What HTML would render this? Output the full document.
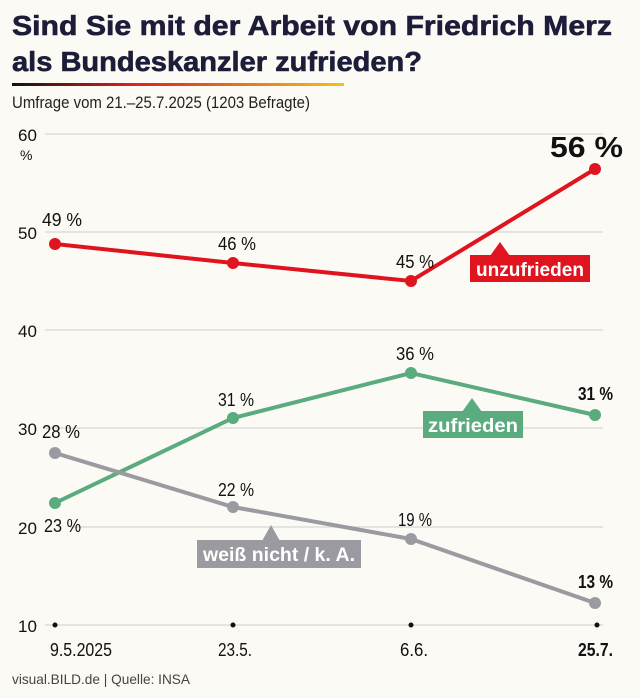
<!DOCTYPE html>
<html><head><meta charset="utf-8"><style>
body{margin:0;background:#fcfaf5;}
svg{display:block}
.c{font-family:"Liberation Sans",sans-serif;}
</style></head><body>
<svg width="640" height="698" viewBox="0 0 640 698" xmlns="http://www.w3.org/2000/svg">
<defs><linearGradient id="g" x1="0" x2="1"><stop offset="0" stop-color="#111"/><stop offset="0.35" stop-color="#d62020"/><stop offset="1" stop-color="#f2c21a"/></linearGradient></defs>
<rect width="640" height="698" fill="#fcfaf5"/>
<g font-family="Liberation Sans, sans-serif" font-weight="bold" font-size="28" fill="#1d1d3a" stroke="#1d1d3a" stroke-width="0.6">
<text x="12" y="35" textLength="600" lengthAdjust="spacingAndGlyphs">Sind Sie mit der Arbeit von Friedrich Merz</text>
<text x="12" y="71" textLength="410" lengthAdjust="spacingAndGlyphs">als Bundeskanzler zufrieden?</text></g>
<rect x="12" y="83" width="332" height="3" fill="url(#g)"/>
<text class="c" x="12" y="108" font-size="17" fill="#222" textLength="298" lengthAdjust="spacingAndGlyphs">Umfrage vom 21.–25.7.2025 (1203 Befragte)</text>
<g stroke="#dcdcdc" stroke-width="1.5">
<line x1="45" x2="603" y1="134" y2="134"/><line x1="45" x2="603" y1="232" y2="232"/>
<line x1="45" x2="603" y1="330" y2="330"/><line x1="45" x2="603" y1="428" y2="428"/>
<line x1="70" x2="603" y1="527" y2="527"/><line x1="45" x2="603" y1="625" y2="625"/></g>
<g class="c" font-size="17" fill="#111">
<text x="18" y="141">60</text><text x="20" y="160" font-size="14">%</text>
<text x="18" y="239">50</text><text x="18" y="337">40</text><text x="18" y="435">30</text>
<text x="18" y="534">20</text><text x="18" y="632">10</text>
<text x="50" y="656" font-size="18" textLength="62" lengthAdjust="spacingAndGlyphs">9.5.2025</text>
<text x="218" y="656" font-size="18" textLength="34" lengthAdjust="spacingAndGlyphs">23.5.</text>
<text x="400" y="656" font-size="18" textLength="28" lengthAdjust="spacingAndGlyphs">6.6.</text>
<text x="578" y="656" font-size="18" font-weight="bold" textLength="35" lengthAdjust="spacingAndGlyphs">25.7.</text>
<text x="12" y="684" font-size="14" fill="#444" textLength="178" lengthAdjust="spacingAndGlyphs">visual.BILD.de | Quelle: INSA</text>
</g>
<g fill="#111"><circle cx="55" cy="625" r="2.5"/><circle cx="233" cy="625" r="2.5"/><circle cx="411" cy="625" r="2.5"/><circle cx="597" cy="625" r="2.5"/></g>
<g fill="none" stroke-width="4">
<polyline stroke="#e0141e" points="55,244 233,263 411,281 595,169"/>
<polyline stroke="#5aab7e" points="55,503 233,418 411,373 595,415"/>
<polyline stroke="#9a9aa0" points="55,453 233,507 411,539 595,603"/></g>
<g fill="#e0141e"><circle cx="55" cy="244" r="6"/><circle cx="233" cy="263" r="6"/><circle cx="411" cy="281" r="6"/><circle cx="595" cy="169" r="6"/></g>
<g fill="#5aab7e"><circle cx="55" cy="503" r="6"/><circle cx="233" cy="418" r="6"/><circle cx="411" cy="373" r="6"/><circle cx="595" cy="415" r="6"/></g>
<g fill="#9a9aa0"><circle cx="55" cy="453" r="6"/><circle cx="233" cy="507" r="6"/><circle cx="411" cy="539" r="6"/><circle cx="595" cy="603" r="6"/></g>
<g class="c" font-size="18" fill="#111">
<text x="42" y="226" textLength="40" lengthAdjust="spacingAndGlyphs">49 %</text>
<text x="218" y="250" textLength="38" lengthAdjust="spacingAndGlyphs">46 %</text>
<text x="396" y="268" textLength="38" lengthAdjust="spacingAndGlyphs">45 %</text>
<text x="42" y="438" textLength="38" lengthAdjust="spacingAndGlyphs">28 %</text>
<text x="218" y="406" textLength="36" lengthAdjust="spacingAndGlyphs">31 %</text>
<text x="396" y="360" textLength="38" lengthAdjust="spacingAndGlyphs">36 %</text>
<text x="44" y="532" textLength="37" lengthAdjust="spacingAndGlyphs">23 %</text>
<text x="218" y="496" textLength="36" lengthAdjust="spacingAndGlyphs">22 %</text>
<text x="398" y="526" textLength="34" lengthAdjust="spacingAndGlyphs">19 %</text>
<text x="578" y="400" font-weight="bold" textLength="35" lengthAdjust="spacingAndGlyphs">31 %</text>
<text x="578" y="588" font-weight="bold" textLength="35" lengthAdjust="spacingAndGlyphs">13 %</text>
</g>
<text x="550" y="157" font-family="Liberation Sans, sans-serif" font-weight="bold" font-size="29" fill="#111" textLength="73" lengthAdjust="spacingAndGlyphs">56 %</text>
<polygon points="500,242 490,256 510,256" fill="#e0141e"/><rect x="470" y="255" width="120" height="27" fill="#e0141e"/>
<text class="c" x="476" y="276" font-weight="bold" font-size="19" fill="#fff" textLength="108" lengthAdjust="spacingAndGlyphs">unzufrieden</text>
<polygon points="472,398 462,412 482,412" fill="#5aab7e"/><rect x="423" y="411" width="100" height="27" fill="#5aab7e"/>
<text class="c" x="428" y="432" font-weight="bold" font-size="19" fill="#fff" textLength="90" lengthAdjust="spacingAndGlyphs">zufrieden</text>
<polygon points="271,525 262,541 280,541" fill="#9a9aa0"/><rect x="197" y="540" width="164" height="28" fill="#9a9aa0"/>
<text class="c" x="203" y="561" font-weight="bold" font-size="19" fill="#fff" textLength="152" lengthAdjust="spacingAndGlyphs">weiß nicht / k. A.</text>
</svg>
</body></html>
